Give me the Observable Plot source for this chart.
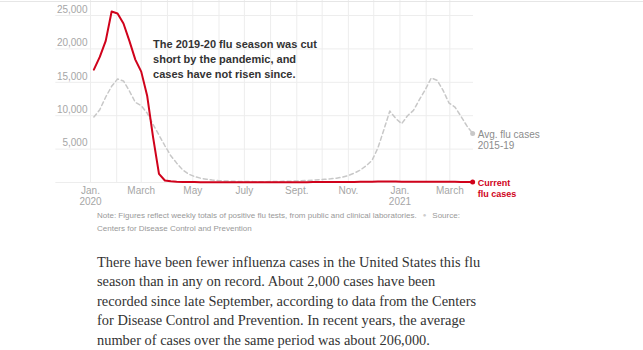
<!DOCTYPE html>
<html><head><meta charset="utf-8">
<script src="https://cdn.jsdelivr.net/npm/d3@7"></script>
<script src="https://cdn.jsdelivr.net/npm/@observablehq/plot@0.6"></script>
<style>
body{margin:0;background:#fff;width:643px;height:350px;overflow:hidden;position:relative;}
#chart{position:absolute;left:0;top:0;}
#rule{position:absolute;left:0;top:1px;width:643px;height:1px;background:#e6e6e6;}
#note{position:absolute;left:97px;top:209px;font-family:"Liberation Sans",Arial,sans-serif;font-size:8px;line-height:12.5px;color:#999;white-space:nowrap;}
#note .sep{color:#ccc;font-size:6px;margin:0 6px;vertical-align:1px;}
#para{position:absolute;left:97px;top:252.5px;font-family:"Liberation Serif","Times New Roman",serif;font-size:14.4px;line-height:19.6px;color:#333;white-space:nowrap;}
</style></head><body>
<div id="chart"></div>
<div id="rule"></div>
<div id="note">Note: Figures reflect weekly totals of positive flu tests, from public and clinical laboratories.<span class="sep">●</span>Source:<br>Centers for Disease Control and Prevention</div>
<div id="para">There have been fewer influenza cases in the United States this flu<br>season than in any on record. About 2,000 cases have been<br>recorded since late September, according to data from the Centers<br>for Disease Control and Prevention. In recent years, the average<br>number of cases over the same period was about 206,000.</div>
<script>
// Weekly data, first week starting 2020-01-05
const firstWeek = "2020-01-05";
const avgCases = [9800, 10900, 12800, 14400, 15500, 15200, 13700, 12000, 11500, 10400,
  8700, 7100, 5500, 4000, 2900, 1900, 1250, 900, 650, 500,
  380, 300, 240, 200, 170, 150, 140, 130, 130, 130,
  140, 150, 170, 190, 220, 260, 300, 350, 420, 480,
  550, 650, 800, 1050, 1400, 1850, 2500, 3300, 5200, 7900,
  10700, 9600, 8800, 10000, 10800, 12400, 13900, 15650, 15300, 13800,
  11900, 11300, 9950, 8500, 7350];
const currentCases = [16900, 18800, 21200, 25600, 25300, 23800, 21200, 18400, 16600, 13000,
  6800, 1300, 300, 180, 120, 90, 70, 60, 50, 45,
  40, 40, 35, 35, 30, 30, 30, 30, 30, 30,
  35, 35, 40, 40, 45, 50, 55, 60, 60, 65,
  70, 75, 80, 85, 90, 100, 110, 120, 140, 150,
  150, 140, 130, 125, 120, 115, 110, 105, 100, 100,
  95, 95, 90, 90, 90];
const yTicks = [5000, 10000, 15000, 20000, 25000];
const xTickDates = ["2020-01-01", "2020-03-01", "2020-05-01", "2020-07-01", "2020-09-01", "2020-11-01", "2021-01-01", "2021-03-01"];
const xTickLabels = ["Jan.\n2020", "March", "May", "July", "Sept.", "Nov.", "Jan.\n2021", "March"];
const seriesLabels = ["Avg. flu cases\n2015-19", "Current\nflu cases"];
const annotationText = "The 2019-20 flu season was cut\nshort by the pandemic, and\ncases have not risen since.";
const annotationAt = {date: "2020-03-15", value: 21750};

const red = "#d0021b";
const grey = "#c8c8c8";
const start = new Date(firstWeek + "T00:00:00Z");
const rows = avgCases.map((v, i) => ({
  date: d3.utcDay.offset(start, 7 * i),
  avg: v,
  current: currentCases[i]
}));
const last = rows[rows.length - 1];
const xStart = new Date("2020-01-01T00:00:00Z");
const xEnd = new Date("2021-03-29T00:00:00Z");
const gridStart = new Date("2019-11-21T00:00:00Z");
const months = d3.utcMonths(xStart, new Date("2021-03-02T00:00:00Z"));
const labelMap = new Map(xTickDates.map((d, i) => [d, xTickLabels[i]]));

const chart = Plot.plot({
  width: 643, height: 208,
  marginTop: 0, marginBottom: 26, marginLeft: 90, marginRight: 170,
  style: {fontFamily: "'Liberation Sans', Arial, sans-serif", fontSize: "10px", background: "transparent", overflow: "visible"},
  x: {type: "utc", domain: [xStart, xEnd]},
  y: {domain: [0, 27246]},
  marks: [
    Plot.ruleX(months, {x: d => d, stroke: "#ededed", strokeWidth: 1}),
    Plot.ruleY([0, ...yTicks], {y: d => d, x1: () => gridStart, x2: () => xEnd, stroke: "#ededed", strokeWidth: 1}),
    Plot.axisY(yTicks, {tickSize: 0, tickPadding: 3, dy: -6, tickFormat: d3.format(","), fill: "#a6a6a6", fontSize: 10, label: null}),
    Plot.axisX(xTickDates.map(d => new Date(d + "T00:00:00Z")), {tickSize: 0, tickPadding: 4, tickFormat: d => labelMap.get(d.toISOString().slice(0, 10)), fill: "#a6a6a6", fontSize: 10, lineHeight: 1.1, label: null}),
    Plot.line(rows, {x: "date", y: "avg", stroke: grey, strokeWidth: 1.5, strokeDasharray: "4,3"}),
    Plot.line(rows, {x: "date", y: "current", stroke: red, strokeWidth: 2}),
    Plot.dot([last], {x: "date", y: "avg", r: 2.5, fill: grey}),
    Plot.dot([last], {x: "date", y: "current", r: 2.5, fill: red}),
    Plot.text([last], {x: "date", y: "avg", text: () => seriesLabels[0], textAnchor: "start", lineAnchor: "top", dx: 5, dy: -3.5, fill: "#8c8c8c", fontSize: 10, lineHeight: 1.1}),
    Plot.text([last], {x: "date", y: "current", text: () => seriesLabels[1], textAnchor: "start", lineAnchor: "top", dx: 5, dy: -3.5, fill: red, fontWeight: "bold", fontSize: 9, lineHeight: 1.2}),
    Plot.text([annotationAt], {x: d => new Date(d.date + "T00:00:00Z"), y: "value", text: () => annotationText, textAnchor: "start", lineAnchor: "top", fill: "#333", fontWeight: "bold", fontSize: 11, lineHeight: 1.36})
  ]
});
document.getElementById("chart").appendChild(chart);
</script>
</body></html>
